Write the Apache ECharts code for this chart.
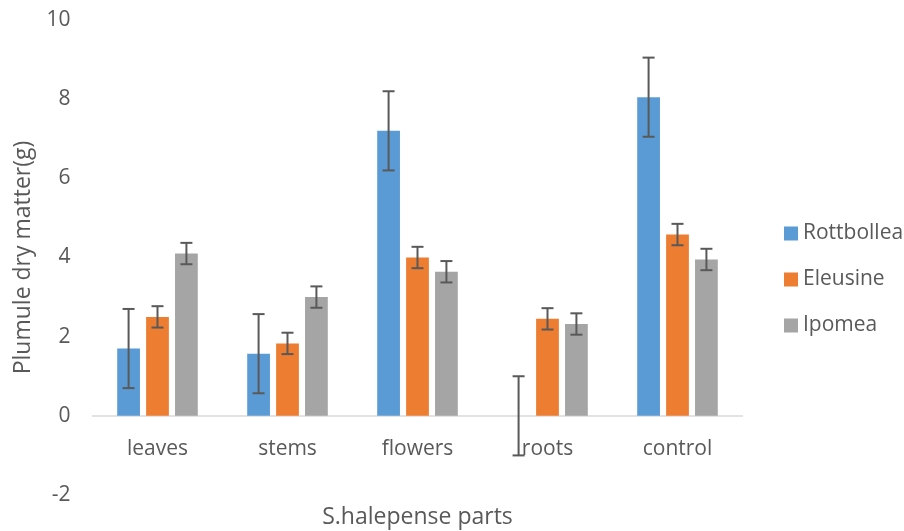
<!DOCTYPE html>
<html><head><meta charset="utf-8">
<script src="https://cdn.jsdelivr.net/npm/echarts@6/dist/echarts.min.js"></script>
<style>html,body{margin:0;padding:0;background:#fff}#c{width:904px;height:531px}</style>
</head><body><div id="c"></div>
<script>
const categories = ['leaves','stems','flowers','roots','control'];
const seriesNames = ['Rottbollea','Eleusine','Ipomea'];
const rottbollea = [1.70, 1.57, 7.20, 0, 8.05];
const eleusine = [2.50, 1.83, 4.00, 2.45, 4.58];
const ipomea = [4.10, 3.00, 3.64, 2.32, 3.95];
const rottbolleaErr = [1, 1, 1, 1, 1];
const eleusineErr = [0.27, 0.27, 0.27, 0.27, 0.27];
const ipomeaErr = [0.27, 0.27, 0.27, 0.27, 0.27];
const yTicks = [-2, 0, 2, 4, 6, 8, 10];

const colors = ['#5B9BD5','#ED7D31','#A5A5A5'];
const values = [rottbollea, eleusine, ipomea];
const errs = [rottbolleaErr, eleusineErr, ipomeaErr];
const CAT_GAP = 0.38, BAR_GAP = 0.27;
const FONT = 'Open Sans';
const TXT = '#595959';

const chart = echarts.init(document.getElementById('c'));
const series = [];
values.forEach((vals, i) => {
  series.push({
    name: seriesNames[i], type: 'bar', data: vals,
    itemStyle: { color: colors[i] },
    barCategoryGap: (CAT_GAP*100)+'%', barGap: (BAR_GAP*100)+'%'
  });
});
values.forEach((vals, i) => {
  series.push({
    type: 'custom', silent: true, z: 10,
    data: vals.map((v, k) => [k, v, errs[i][k]]),
    renderItem: function (params, api) {
      const k = api.value(0), v = api.value(1), e = api.value(2);
      const band = api.size([1, 0])[0];
      const bw = band * (1 - CAT_GAP) / (3 + 2 * BAR_GAP);
      const off = (i - 1) * bw * (1 + BAR_GAP);
      const t = api.coord([k, v + e]);
      const b = api.coord([k, v - e]);
      const x = t[0] + off;
      const cap = 6;
      const st = { stroke: '#595959', lineWidth: 2 };
      return { type: 'group', children: [
        { type: 'line', shape: { x1: x, y1: t[1], x2: x, y2: b[1] }, style: st },
        { type: 'line', shape: { x1: x - cap, y1: t[1], x2: x + cap, y2: t[1] }, style: st },
        { type: 'line', shape: { x1: x - cap, y1: b[1], x2: x + cap, y2: b[1] }, style: st }
      ]};
    }
  });
});

chart.setOption({
  animation: false,
  textStyle: { fontFamily: FONT },
  grid: { left: 92.5, right: 161.5, top: 20, bottom: 36, outerBoundsMode: 'none', containLabel: false },
  legend: {
    data: seriesNames, orient: 'vertical', left: 779, top: 218,
    itemWidth: 14, itemHeight: 14, itemGap: 25, icon: 'rect',
    textStyle: { color: TXT, fontSize: 21, lineHeight: 20, fontFamily: FONT }
  },
  xAxis: {
    type: 'category', data: categories,
    name: 'S.halepense parts', nameLocation: 'middle', nameGap: 11,
    nameTextStyle: { color: TXT, fontSize: 23, fontFamily: FONT },
    axisLine: { onZero: true, lineStyle: { color: '#D9D9D9', width: 1.5 } },
    axisTick: { show: false },
    axisLabel: { color: TXT, fontSize: 21, margin: -56, fontFamily: FONT },
    splitLine: { show: false }
  },
  yAxis: {
    type: 'value', min: yTicks[0], max: yTicks[yTicks.length - 1], interval: 2,
    name: 'Plumule dry matter(g)', nameLocation: 'middle', nameGap: 58,
    nameTextStyle: { color: TXT, fontSize: 23, fontFamily: FONT },
    axisLine: { show: false }, axisTick: { show: false },
    axisLabel: { color: TXT, fontSize: 21, margin: 22, fontFamily: FONT },
    splitLine: { show: false }
  },
  series: series
});
</script></body></html>
